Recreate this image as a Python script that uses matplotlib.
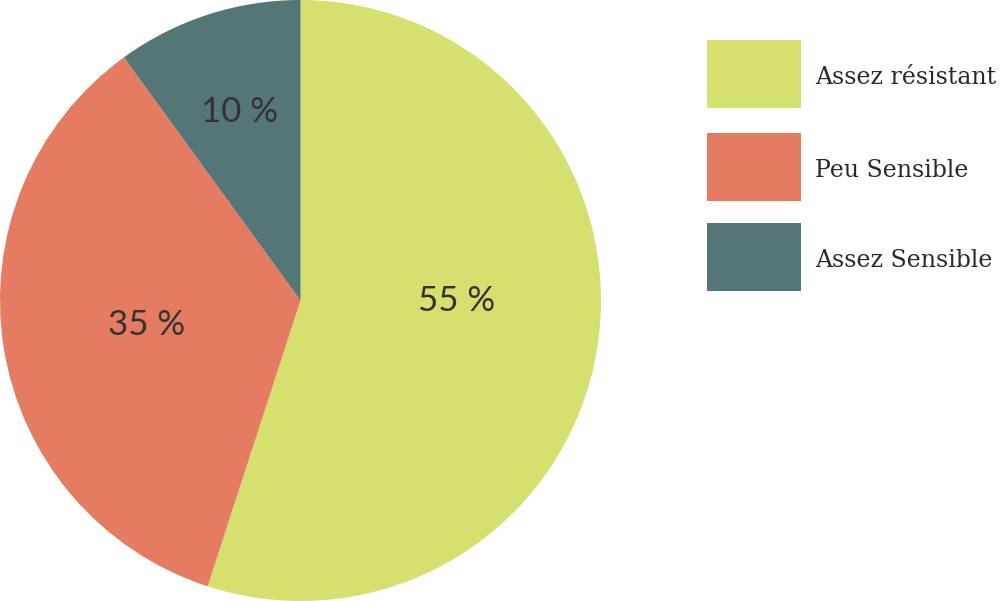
import matplotlib
matplotlib.use("Agg")
import matplotlib.pyplot as plt
from matplotlib.patches import Rectangle
import numpy as np

categories = ["Assez résistant", "Peu Sensible", "Assez Sensible"]
values = [55, 35, 10]
labels = ["55 %", "35 %", "10 %"]
colors = ["#d5e06e", "#e57b61", "#547676"]
label_dist = [0.52, 0.52, 0.66]
label_angle_shift = [9, 0, 0]

fig = plt.figure(figsize=(10, 6.01), dpi=100)
ax = fig.add_axes([0.0, 0.0, 0.601, 1.0])
wedges, _ = ax.pie(values, colors=colors, startangle=90, counterclock=False,
                   radius=1.0, wedgeprops=dict(linewidth=0))
ax.set_xlim(-1.0, 1.0)
ax.set_ylim(-1.0, 1.0)
ax.set_aspect("equal")
ax.axis("off")

for w, lab, d, sh in zip(wedges, labels, label_dist, label_angle_shift):
    ang = np.deg2rad((w.theta1 + w.theta2) / 2 + sh)
    ax.text(d * np.cos(ang), d * np.sin(ang), lab, ha="center", va="center",
            fontsize=25, family="Lato", fontweight="normal", color="#333333")

# legend
box_x, box_w, box_h = 0.707, 0.094, 68 / 601
tops = [40, 133, 223]
for cat, col, top in zip(categories, colors, tops):
    y0 = 1 - (top + 68) / 601
    fig.add_artist(Rectangle((box_x, y0), box_w, box_h, transform=fig.transFigure,
                             facecolor=col, edgecolor="none"))
    fig.text(0.815, y0 + box_h / 2 - 0.006, cat, ha="left", va="center", fontsize=17,
             family="DejaVu Serif", color="#2a2a2a")

fig.savefig("out.png", dpi=100, facecolor="white")
